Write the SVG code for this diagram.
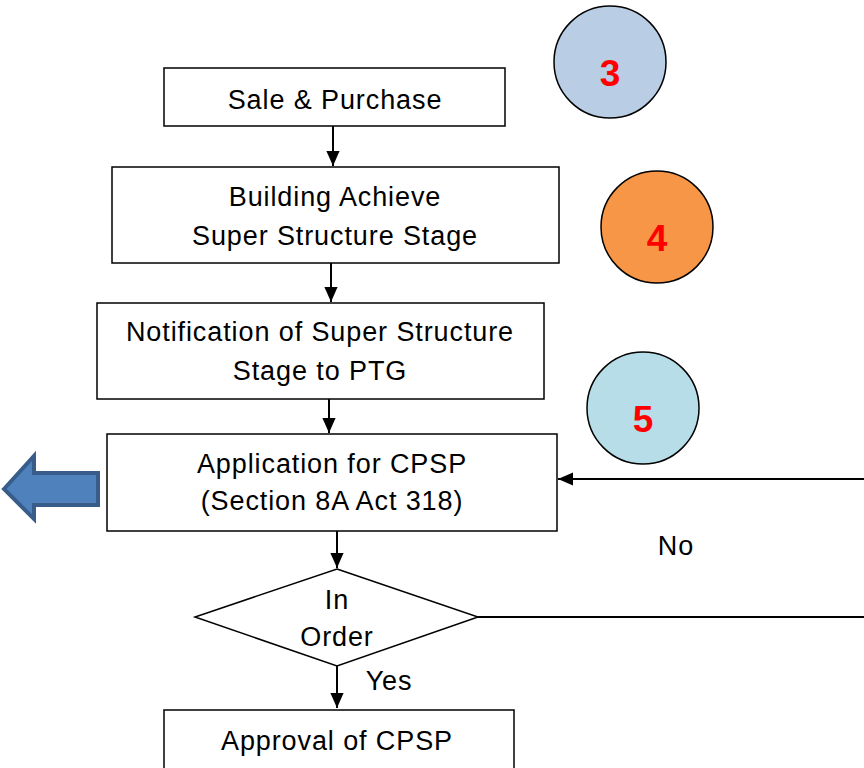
<svg xmlns="http://www.w3.org/2000/svg" width="864" height="768" viewBox="0 0 864 768">
  <defs>
    <marker id="arrowhead" viewBox="0 0 10 10" refX="10" refY="5" markerWidth="15" markerHeight="15" orient="auto" markerUnits="userSpaceOnUse">
      <path d="M0,0.6 L10,5 L0,9.4 Z" fill="#000"/>
    </marker>
    <style>
      .box { fill: #fff; stroke: #000; stroke-width: 1.5; }
      .lbl { font-family: "Liberation Sans", Arial, sans-serif; font-size: 27px; letter-spacing: 0.9px; fill: #000; text-anchor: middle; }
      .num { font-family: "Liberation Sans", Arial, sans-serif; font-size: 37px; font-weight: bold; fill: #ff0000; text-anchor: middle; }
      .circ { stroke: #000; stroke-width: 1.5; }
      .link { fill: none; stroke: #000; stroke-width: 2; }
    </style>
  </defs>
  <rect width="864" height="768" fill="#fff"/>

  <!-- step badges -->
  <g id="badge3">
    <circle class="circ" cx="610" cy="62" r="56" fill="#b9cde5"/>
    <text class="num" x="610" y="86">3</text>
  </g>
  <g id="badge4">
    <circle class="circ" cx="657" cy="227" r="56" fill="#f79646"/>
    <text class="num" x="657" y="251">4</text>
  </g>
  <g id="badge5">
    <circle class="circ" cx="643" cy="408" r="56" fill="#b7dde8"/>
    <text class="num" x="643" y="432">5</text>
  </g>

  <!-- process nodes -->
  <g id="sale">
    <rect class="box" x="164" y="68" width="341" height="58"/>
    <text class="lbl" x="335" y="109">Sale &amp; Purchase</text>
  </g>
  <g id="building">
    <rect class="box" x="112" y="167" width="447" height="96"/>
    <text class="lbl" x="335" y="206">Building Achieve</text>
    <text class="lbl" x="335" y="245">Super Structure Stage</text>
  </g>
  <g id="notification">
    <rect class="box" x="97" y="303" width="447" height="96"/>
    <text class="lbl" x="320" y="341">Notification of Super Structure</text>
    <text class="lbl" x="320" y="380">Stage to PTG</text>
  </g>
  <g id="application">
    <rect class="box" x="107" y="434" width="450" height="97"/>
    <text class="lbl" x="332" y="473">Application for CPSP</text>
    <text class="lbl" x="332" y="510">(Section 8A Act 318)</text>
  </g>
  <g id="decision">
    <polygon class="box" points="337,569 478,617 337,666 195,617" stroke-width="2"/>
    <text class="lbl" x="337" y="609">In</text>
    <text class="lbl" x="337" y="646">Order</text>
  </g>
  <g id="approval">
    <rect class="box" x="164" y="710" width="350" height="60"/>
    <text class="lbl" x="337" y="750">Approval of CPSP</text>
  </g>

  <!-- block arrow pointing left -->
  <g id="leftArrow">
    <polygon points="4,489 34,456 34,473 98,473 98,505 34,505 34,519" fill="#4f81bd" stroke="#385d8a" stroke-width="4" stroke-linejoin="miter"/>
  </g>

  <!-- connectors -->
  <g id="connectors">
    <line class="link" x1="333" y1="126" x2="333" y2="166" marker-end="url(#arrowhead)"/>
    <line class="link" x1="331" y1="263" x2="331" y2="302" marker-end="url(#arrowhead)"/>
    <line class="link" x1="329" y1="399" x2="329" y2="433" marker-end="url(#arrowhead)"/>
    <line class="link" x1="337" y1="531" x2="337" y2="568" marker-end="url(#arrowhead)"/>
    <line class="link" x1="337" y1="666" x2="337" y2="708" marker-end="url(#arrowhead)"/>
    <line class="link" x1="478" y1="617" x2="864" y2="617"/>
    <line class="link" x1="864" y1="479" x2="558" y2="479" marker-end="url(#arrowhead)"/>
    <text class="lbl" x="676" y="555">No</text>
    <text class="lbl" x="389" y="690">Yes</text>
  </g>
</svg>
